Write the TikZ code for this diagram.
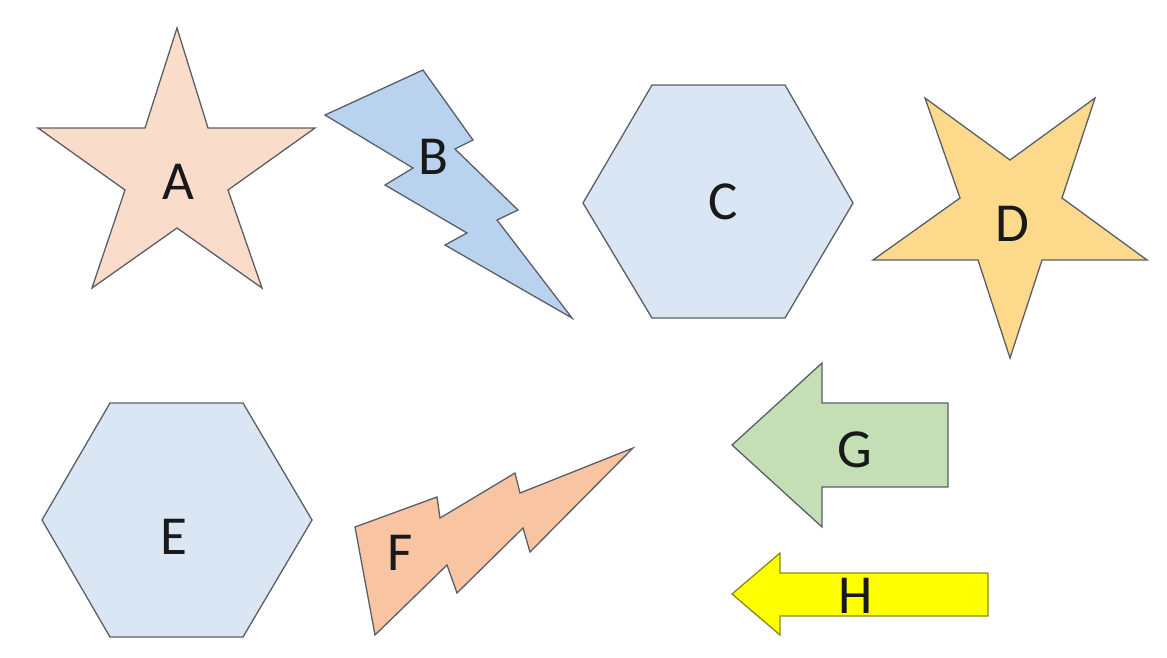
\documentclass[tikz,border=0pt]{standalone}
\usepackage{fontspec}
\setmainfont{Carlito}
\definecolor{peachA}{HTML}{FADCCB}
\definecolor{blueB}{HTML}{B9D3EE}
\definecolor{paleblue}{HTML}{DAE6F4}
\definecolor{goldD}{HTML}{FDD98C}
\definecolor{orangeF}{HTML}{F8C4A2}
\definecolor{greenG}{HTML}{C4DEB5}
\definecolor{yellowH}{HTML}{FFFF00}
\definecolor{edgegray}{HTML}{5A5F66}
\definecolor{edgeolive}{HTML}{8A8A20}
\tikzset{
  shapeline/.style={draw=edgegray, line width=1.3pt, line join=miter},
  lbl/.style={font=\fontsize{55}{60}\selectfont, text=black!90, inner sep=0pt}
}
\begin{document}
\begin{tikzpicture}[x=1pt,y=-1pt]
\useasboundingbox (0,0) rectangle (1167,657);
% A star
\path[shapeline, fill=peachA] (177,28) -- (208,128) -- (315,128) -- (228,190) -- (262,288) -- (177,228) -- (92,288) -- (125,190) -- (38,128) -- (145,128) -- cycle;
\node[lbl] (A) at (178,182) {A};
% B bolt
\path[shapeline, fill=blueB] (325,115) -- (423,70) -- (473,140) -- (455,149) -- (518,210) -- (497,220) -- (572,318) -- (445,245) -- (467,233) -- (385,185) -- (413,168) -- cycle;
\node[lbl] (B) at (433,157) {B};
% C hexagon
\path[shapeline, fill=paleblue] (652,85) -- (785,85) -- (853,203) -- (785,318) -- (652,318) -- (583,203) -- cycle;
\node[lbl] (C) at (723,202) {C};
% D star
\path[shapeline, fill=goldD] (925,98) -- (1010,160) -- (1095,98) -- (1062,198) -- (1147,260) -- (1042,260) -- (1010,358) -- (978,260) -- (873,260) -- (960,198) -- cycle;
\node[lbl] (D) at (1012,224) {D};
% E hexagon
\path[shapeline, fill=paleblue] (110,403) -- (243,403) -- (312,520) -- (243,637) -- (110,637) -- (42,520) -- cycle;
\node[lbl] (E) at (174,537) {E};
% F bolt
\path[shapeline, fill=orangeF] (355,527) -- (437,497) -- (440,518) -- (515,473) -- (520,493) -- (633,448) -- (530,552) -- (523,528) -- (457,593) -- (447,565) -- (375,635) -- cycle;
\node[lbl] (F) at (400,553) {F};
% G arrow
\path[shapeline, fill=greenG] (732,445) -- (822,363) -- (822,403) -- (948,403) -- (948,487) -- (822,487) -- (822,527) -- cycle;
\node[lbl] (G) at (855,450) {G};
% H arrow
\path[draw=edgeolive, line width=1.3pt, fill=yellowH] (732,594) -- (780,553) -- (780,573) -- (988,573) -- (988,616) -- (780,616) -- (780,635) -- cycle;
\node[lbl] (H) at (856,596) {H};
\end{tikzpicture}
\end{document}
